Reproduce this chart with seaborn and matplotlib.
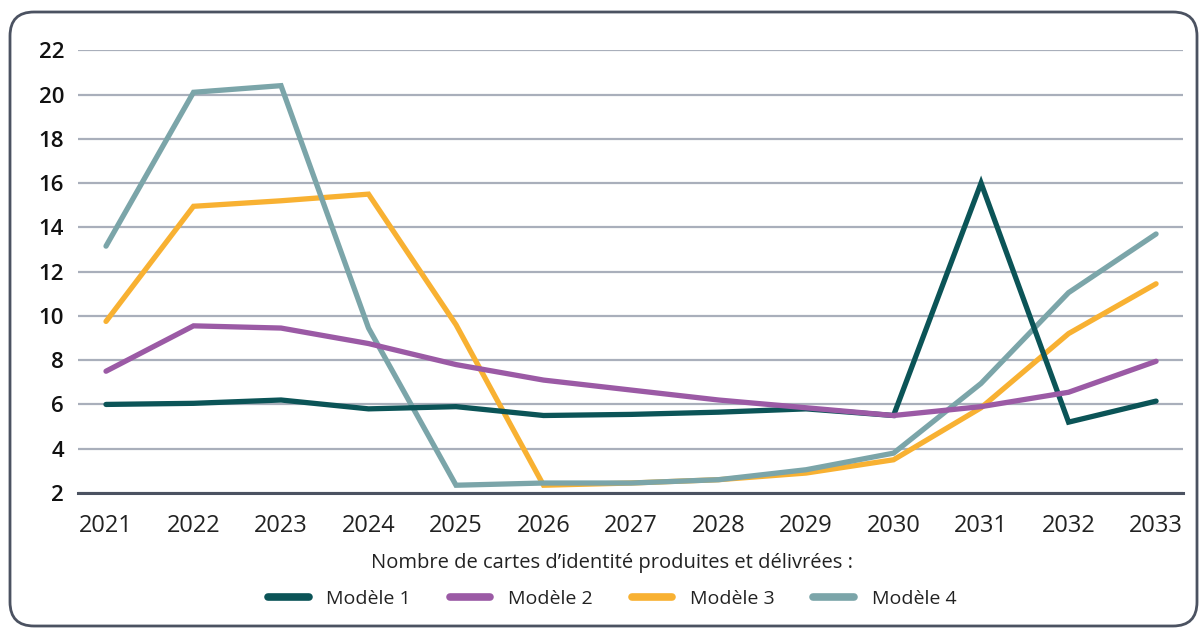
import numpy as np
import pandas as pd
import matplotlib
matplotlib.use('Agg')
import matplotlib.pyplot as plt
import seaborn as sns
from matplotlib.patches import FancyBboxPatch
from matplotlib.lines import Line2D

# Données
annees = list(range(2021, 2034))
modele_1 = [6.0, 6.05, 6.2, 5.8, 5.9, 5.5, 5.55, 5.65, 5.8, 5.5, 16.0, 5.2, 6.15]
modele_2 = [7.5, 9.55, 9.45, 8.75, 7.8, 7.1, 6.65, 6.2, 5.85, 5.5, 5.9, 6.55, 7.95]
modele_3 = [9.75, 14.95, 15.2, 15.5, 9.6, 2.35, 2.45, 2.6, 2.9, 3.5, 5.85, 9.2, 11.45]
modele_4 = [13.15, 20.1, 20.4, 9.45, 2.35, 2.45, 2.45, 2.6, 3.05, 3.8, 6.95, 11.05, 13.7]
noms = ['Modèle 1', 'Modèle 2', 'Modèle 3', 'Modèle 4']
couleurs = ['#0b5457', '#9b5aa5', '#f8b132', '#7ba5a9']

df = pd.DataFrame({'annee': annees, 'Modèle 1': modele_1, 'Modèle 2': modele_2,
                   'Modèle 3': modele_3, 'Modèle 4': modele_4})
df_long = df.melt(id_vars='annee', var_name='modele', value_name='valeur')

sns.set_theme(style='white')
plt.rcParams['font.family'] = ['Open Sans', 'DejaVu Sans']

fig = plt.figure(figsize=(12, 6.28), dpi=100)
ax = fig.add_axes([0.065, 0.215, 0.921, 0.705])

# ordre de superposition : 3, 4, 1, 2
zorders = {'Modèle 1': 4, 'Modèle 2': 5, 'Modèle 3': 2, 'Modèle 4': 3}
for nom, coul in zip(noms, couleurs):
    sns.lineplot(data=df_long[df_long['modele'] == nom], x='annee', y='valeur',
                 color=coul, linewidth=3.8, ax=ax, zorder=zorders[nom],
                 legend=False, solid_capstyle='round', solid_joinstyle='miter')

ax.set_xlim(2020.68, 2033.31)
ax.set_ylim(2, 22)
ax.set_yticks(range(2, 23, 2))
ax.set_xticks(annees)
ax.set_xlabel('')
ax.set_ylabel('')
ax.grid(axis='y', color='#a9afbb', linewidth=1.6, zorder=0)
ax.grid(axis='x', visible=False)
for s in ['top', 'right', 'left']:
    ax.spines[s].set_visible(False)
ax.spines['bottom'].set_color('#4b5261')
ax.spines['bottom'].set_linewidth(2.2)
ax.tick_params(axis='y', length=0, pad=10, labelsize=16, labelcolor='#111111')
ax.tick_params(axis='x', length=0, pad=15, labelsize=17, labelcolor='#222222')
for lab in ax.get_yticklabels():
    lab.set_fontweight('semibold')

# Légende
handles = [Line2D([0], [0], color=c, linewidth=5.5, solid_capstyle='round') for c in couleurs]
leg = fig.legend(handles, noms, loc='upper center', ncol=4, frameon=False,
                 fontsize=14, handlelength=2.1, handletextpad=0.9, columnspacing=2.0,
                 title="Nombre de cartes d’identité produites et délivrées :",
                 title_fontsize=14.5)
for t in leg.get_texts():
    t.set_color('#222222')
leg.get_title().set_color('#222222')
leg._legend_box.sep = 12
leg.set_bbox_to_anchor((0.51, 0.147), transform=fig.transFigure)

# Cadre arrondi
cadre = FancyBboxPatch((10, 2), 1187, 614, boxstyle='round,pad=0,rounding_size=24',
                       transform=None, facecolor='none', edgecolor='#4b5261', linewidth=2)
fig.add_artist(cadre)

fig.savefig('out.png', dpi=100)
